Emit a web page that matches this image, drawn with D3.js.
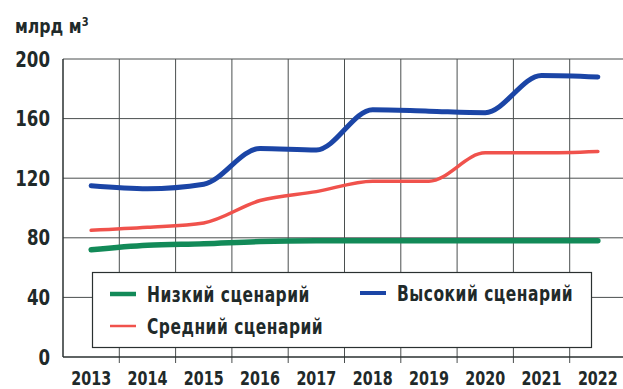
<!DOCTYPE html>
<html>
<head>
<meta charset="utf-8">
<script src="https://cdn.jsdelivr.net/npm/d3@7"></script>
<style>
  body { margin: 0; background: #fff; }
  text { font-family: "Liberation Sans Narrow", "DejaVu Sans Condensed", sans-serif; font-weight: bold; fill: #1f2a2a; }
</style>
</head>
<body>
<div id="chart"></div>
<script>
// Gas volume scenarios, bln m3
const years = ["2013", "2014", "2015", "2016", "2017", "2018", "2019", "2020", "2021", "2022"];
const lowValues = [72, 75, 76, 77.5, 78, 78, 78, 78, 78, 78];
const midValues = [85, 87, 90, 105, 111, 118, 118, 137, 137, 138];
const highValues = [115, 113, 116, 140, 139, 166, 165, 164, 189, 188];
const yTicks = [0, 40, 80, 120, 160, 200];

const series = [
    {name: "Низкий сценарий", values: lowValues, color: "#128a58", width: 5.5},
    {name: "Средний сценарий", values: midValues, color: "#f0524c", width: 3.5},
    {name: "Высокий сценарий", values: highValues, color: "#1b45a6", width: 5}
];

const width = 623, height = 389;
const padding = {top: 59, right: -3, bottom: 32, left: 63};

// the print font is a narrow one, so squeeze text horizontally
const squeeze = 0.82;

const svg = d3.select("#chart").append("svg")
    .attr("width", width)
    .attr("height", height);

// x: one band per year, lines drawn through band centres
const xScale = d3.scaleBand()
    .domain(years)
    .range([padding.left, width - padding.right]);

const yScale = d3.scaleLinear()
    .domain([0, 200])
    .range([height - padding.bottom, padding.top]);

// horizontal grid
svg.append("g")
    .selectAll("line")
    .data(yTicks.filter(d => d > 0))
    .enter()
    .append("line")
        .attr("x1", padding.left)
        .attr("x2", width)
        .attr("y1", d => yScale(d))
        .attr("y2", d => yScale(d))
        .attr("stroke", "#4a4f4f")
        .attr("stroke-width", 1);

// vertical grid at band boundaries
svg.append("g")
    .selectAll("line")
    .data(years.slice(1))
    .enter()
    .append("line")
        .attr("x1", d => xScale(d))
        .attr("x2", d => xScale(d))
        .attr("y1", yScale(200))
        .attr("y2", yScale(0) + 6)
        .attr("stroke", "#4a4f4f")
        .attr("stroke-width", 1);

// y-axis labels
svg.append("g")
    .selectAll("text")
    .data(yTicks)
    .enter()
    .append("text")
        .attr("transform", d => "translate(50," + yScale(d) + ") scale(0.88,1)")
        .attr("dy", "0.36em")
        .style("text-anchor", "end")
        .style("font-size", "21px")
        .text(d => d);

// x-axis labels
svg.append("g")
    .selectAll("text")
    .data(years)
    .enter()
    .append("text")
        .attr("transform", d => "translate(" + (xScale(d) + xScale.bandwidth() / 2) + ",384.5) scale(0.84,1)")
        .style("text-anchor", "middle")
        .style("font-size", "19px")
        .text(d => d);

// axis lines
svg.append("line")
    .attr("x1", padding.left).attr("x2", padding.left)
    .attr("y1", yScale(200)).attr("y2", yScale(0))
    .attr("stroke", "#2a3030").attr("stroke-width", 1.5);
svg.append("line")
    .attr("x1", padding.left).attr("x2", width)
    .attr("y1", yScale(0)).attr("y2", yScale(0))
    .attr("stroke", "#2a3030").attr("stroke-width", 1.5);

// unit label
const unit = svg.append("text")
    .attr("transform", "translate(15,33) scale(0.92,1)")
    .style("font-size", "19px");
unit.append("tspan").text("млрд м");
unit.append("tspan").attr("dy", -7).style("font-size", "12px").text("3");

// scenario lines
const line = d3.line()
    .x((d, i) => xScale(years[i]) + xScale.bandwidth() / 2)
    .y(d => yScale(d))
    .curve(d3.curveMonotoneX);

svg.append("g")
    .selectAll("path")
    .data(series)
    .enter()
    .append("path")
        .attr("d", d => line(d.values))
        .attr("fill", "none")
        .attr("stroke", d => d.color)
        .attr("stroke-width", d => d.width)
        .attr("stroke-linecap", "round");

// legend
const legend = svg.append("g");
legend.append("rect")
    .attr("x", 92.5).attr("y", 272.5)
    .attr("width", 499).attr("height", 75)
    .attr("fill", "#fff")
    .attr("stroke", "#2a3030")
    .attr("stroke-width", 1.2);

const legendPos = [
    {x: 110, y: 294},
    {x: 110, y: 326},
    {x: 360, y: 293}
];

const items = legend.selectAll(".item")
    .data(series)
    .enter()
    .append("g")
        .attr("class", "item")
        .attr("transform", (d, i) => "translate(" + legendPos[i].x + "," + legendPos[i].y + ")");

items.append("line")
    .attr("x1", 0).attr("x2", 26)
    .attr("stroke", d => d.color)
    .attr("stroke-width", d => d.width - 1);

items.append("text")
    .attr("transform", "translate(37,0) scale(" + squeeze + ",1)")
    .attr("dy", "0.36em")
    .style("font-size", "21px")
    .style("letter-spacing", "0.6px")
    .text(d => d.name);
</script>
</body>
</html>
